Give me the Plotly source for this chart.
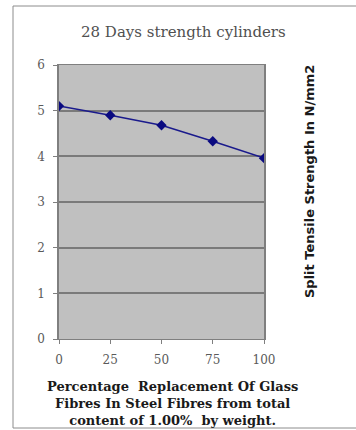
import plotly.graph_objects as go

# Replacement of steel fibres by glass fibres (%) and 28-day split tensile strength (N/mm2)
replacement_pct = [0, 25, 50, 75, 100]
split_tensile = [5.1, 4.9, 4.68, 4.33, 3.96]
x_tick_labels = ["0", "25", "50", "75", "100"]
y_tick_values = [0, 1, 2, 3, 4, 5, 6]

W, H = 356, 430
L, R, T, B = 59, 92, 65, 91
pw, ph = W - L - R, H - T - B


def px_x(x):
    return (x - L) / pw


def px_y(y):
    return (H - B - y) / ph


serif = "DejaVu Serif, Liberation Serif, serif"
bold_sans = "DejaVu Sans, Liberation Sans, sans-serif"

fig = go.Figure(
    go.Scatter(
        x=replacement_pct,
        y=split_tensile,
        mode="lines+markers",
        line=dict(color="#1a1a8c", width=1.5),
        marker=dict(symbol="diamond", size=8, color="#0a0a80"),
        showlegend=False,
    )
)

fig.update_layout(
    width=W,
    height=H,
    margin=dict(l=L, r=R, t=T, b=B),
    paper_bgcolor="white",
    plot_bgcolor="#c0c0c0",
    xaxis=dict(
        range=[0, 100],
        tickvals=replacement_pct,
        ticktext=x_tick_labels,
        showgrid=False,
        zeroline=False,
        showline=True,
        linecolor="#7f7f7f",
        linewidth=1,
        mirror=True,
        ticks="outside",
        ticklen=4,
        tickcolor="#7f7f7f",
        ticklabelstandoff=6,
        tickfont=dict(family=serif, size=12, color="#5a5a5a"),
        fixedrange=True,
    ),
    yaxis=dict(
        range=[0, 6],
        tickvals=y_tick_values,
        showgrid=True,
        gridcolor="#7a7a7a",
        gridwidth=1.5,
        zeroline=False,
        showline=True,
        linecolor="#7f7f7f",
        linewidth=1.5,
        mirror=True,
        ticks="outside",
        ticklen=4,
        tickcolor="#7f7f7f",
        ticklabelstandoff=6,
        tickfont=dict(family=serif, size=12, color="#5a5a5a"),
        fixedrange=True,
    ),
    shapes=[
        dict(
            type="rect",
            xref="paper",
            yref="paper",
            x0=px_x(13),
            x1=px_x(362),
            y0=px_y(428),
            y1=px_y(6),
            line=dict(color="#8c8c8c", width=1),
            layer="below",
        )
    ],
    annotations=[
        dict(
            text="28 Days strength cylinders",
            xref="paper",
            yref="paper",
            x=px_x(183),
            y=px_y(32),
            xanchor="center",
            yanchor="middle",
            showarrow=False,
            font=dict(family=serif, size=15, color="#505050"),
        ),
        dict(
            text="<b>Split Tensile Strength In N/mm2</b>",
            xref="paper",
            yref="paper",
            x=px_x(309),
            y=px_y(182),
            xanchor="center",
            yanchor="middle",
            textangle=-90,
            showarrow=False,
            font=dict(family=bold_sans, size=13, color="#1a1a1a"),
        ),
        dict(
            text="<b>Percentage  Replacement Of Glass<br>Fibres In Steel Fibres from total<br>content of 1.00%  by weight.</b>",
            xref="paper",
            yref="paper",
            x=px_x(172),
            y=px_y(403),
            xanchor="center",
            yanchor="middle",
            showarrow=False,
            align="center",
            font=dict(family=serif, size=13, color="#1a1a1a"),
        ),
    ],
)

fig.write_html("out.html")
